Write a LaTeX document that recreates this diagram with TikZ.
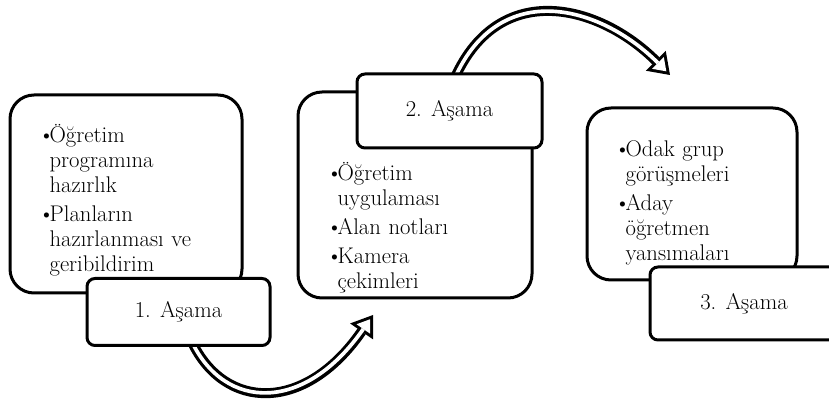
\documentclass[tikz,border=0pt]{standalone}
\usetikzlibrary{arrows.meta}
\usetikzlibrary{backgrounds}

\newcommand{\bitem}[1]{\par\hangindent=0.5em\hangafter=1\noindent\makebox[0.5em][l]{\textbullet}#1}

\begin{document}
\begin{tikzpicture}[x=0.75pt, y=-0.75pt, line cap=round,
    bigbox/.style={draw, line width=2.25pt, rounded corners=18pt, fill=white, inner sep=0pt},
    stagebox/.style={draw, line width=2.25pt, rounded corners=6pt, fill=white, inner sep=0pt, font=\fontsize{17}{20}\selectfont},
    itemlist/.style={anchor=north west, inner sep=0pt, text width=140pt, align=left, font=\fontsize{17}{18.75}\selectfont},
    outerarrow/.style={line cap=butt, line width=7.5pt, -{Triangle[length=15pt, width=21pt, line width=0pt]}},
    innerarrow/.style={line cap=butt, white, line width=2.75pt, shorten >=3.9pt, -{Triangle[length=8.85pt, width=12.4pt, line width=0pt]}}]

    \useasboundingbox (0,0) rectangle (829,402);
    \clip (0,0) rectangle (829,402);

    % stage 1
    \node[bigbox, minimum width=174pt, minimum height=148.5pt] (b1) at (126,194) {};
    \node[itemlist] (l1) at (38,113) {\setlength{\parskip}{3pt}\bitem{Öğretim\newline programına\newline hazırlık}\bitem{Planların\newline hazırlanması ve\newline geribildirim}\par};
    \node[stagebox, minimum width=137.25pt, minimum height=50.25pt] (s1) at (178.5,312) {1. Aşama};

    % stage 2
    \node[bigbox, minimum width=175.5pt, minimum height=154.5pt] (b2) at (415,195) {};
    \node[stagebox, minimum width=138.75pt, minimum height=55.5pt] (s2) at (449.5,111) {2. Aşama};
    \node[itemlist] (l2) at (326,151) {\setlength{\parskip}{3pt}\bitem{Öğretim\newline uygulaması}\bitem{Alan notları}\bitem{Kamera\newline çekimleri}\par};

    % stage 3
    \node[bigbox, minimum width=157.5pt, minimum height=129pt] (b3) at (692,194) {};
    \node[itemlist] (l3) at (614,127) {\setlength{\parskip}{3pt}\bitem{Odak grup\newline görüşmeleri}\bitem{Aday\newline öğretmen\newline yansımaları}\par};
    \node[stagebox, minimum width=141pt, minimum height=54.75pt] (s3) at (744,303.5) {3. Aşama};

    \coordinate (e1) at (373,315);
    \coordinate (e2) at (670,75);
    \begin{pgfonlayer}{background}
        \foreach \s in {outerarrow, innerarrow} {
            \draw[\s] ([xshift=10pt, yshift=4pt]s1.south) .. controls (225,411) and (305,413) .. (e1);
            \draw[\s] ([xshift=4pt, yshift=-4pt]s2.north) .. controls (500,-22) and (600,5) .. (e2);
        }
    \end{pgfonlayer}
\end{tikzpicture}
\end{document}
